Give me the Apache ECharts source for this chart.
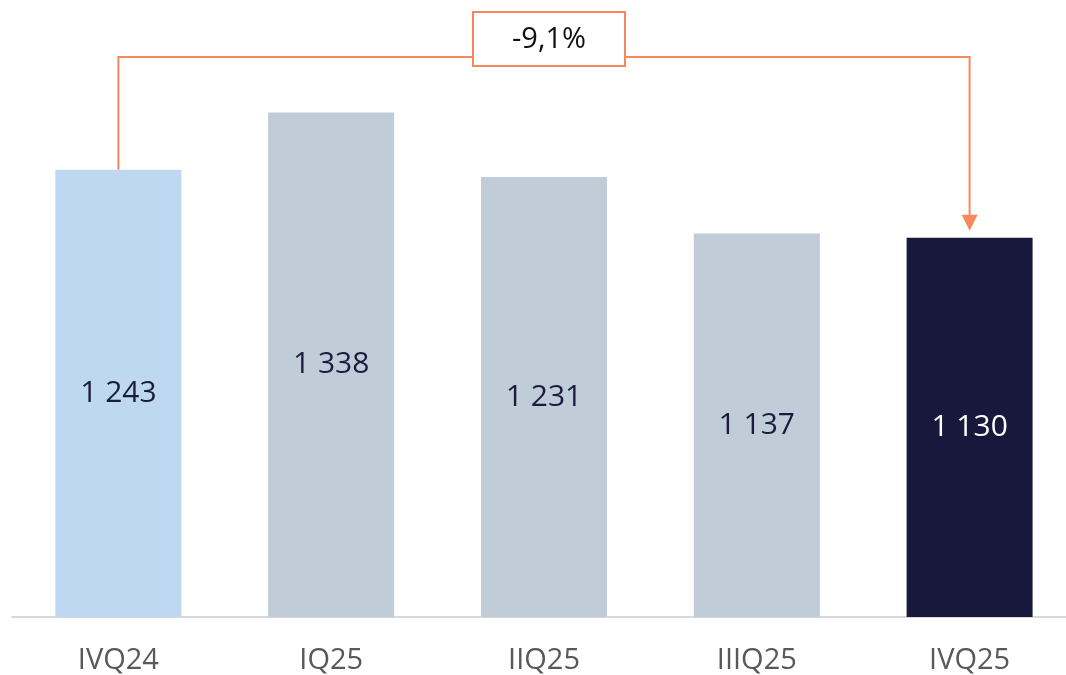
<!DOCTYPE html>
<html>
<head>
    <meta charset="UTF-8">
    <title>Quarterly chart</title>
    <script src="https://cdn.jsdelivr.net/npm/echarts@6/dist/echarts.min.js"></script>
    <style>
        html, body { margin: 0; padding: 0; background: #fff; overflow: hidden; }
        #main { width: 1090px; height: 675px; }
    </style>
</head>
<body>
    <div id="main"></div>
    <script type="text/javascript">
        // data
        var quarters = ['IVQ24', 'IQ25', 'IIQ25', 'IIIQ25', 'IVQ25'];
        var values = [1243, 1338, 1231, 1137, 1130];
        var barColors = ['#BDD8F0', '#C1CCD9', '#C1CCD9', '#C1CCD9', '#18183D'];
        var labelColors = ['#1B1B40', '#1B1B40', '#1B1B40', '#1B1B40', '#FFFFFF'];
        var changeText = '-9,1%';

        var orange = '#F9875C';
        var font = 'Open Sans';

        function fmt(v) {
            var s = String(v);
            return s.replace(/\B(?=(\d{3})+(?!\d))/g, ' ');
        }

        var myChart = echarts.init(document.getElementById('main'));

        var option = {
            animation: false,
            grid: { left: 12, width: 1064, top: 15, bottom: 57 },
            xAxis: {
                type: 'category',
                data: quarters,
                axisTick: { show: false },
                axisLine: { lineStyle: { color: '#D9D9D9', width: 2 } },
                axisLabel: { color: '#595959', fontSize: 29, fontFamily: font, margin: 29 }
            },
            yAxis: {
                type: 'value',
                min: 500,
                max: 1500,
                show: false,
                splitLine: { show: false }
            },
            series: [{
                type: 'bar',
                barWidth: 126,
                data: values.map(function (v, i) {
                    return {
                        value: v,
                        itemStyle: { color: barColors[i] },
                        label: { color: labelColors[i] }
                    };
                }),
                label: {
                    show: true,
                    position: 'inside',
                    fontSize: 30,
                    fontFamily: font,
                    formatter: function (p) { return fmt(p.value); }
                }
            }]
        };
        myChart.setOption(option);

        // change annotation between first and last bar
        var p0 = myChart.convertToPixel({ seriesIndex: 0 }, [0, values[0]]);
        var p1 = myChart.convertToPixel({ seriesIndex: 0 }, [values.length - 1, values[values.length - 1]]);
        var lineY = 57;
        var midX = (p0[0] + p1[0]) / 2 + 5;
        var tipY = p1[1] - 7;

        myChart.setOption({
            graphic: [
                {
                    type: 'polyline',
                    shape: { points: [[p0[0], p0[1]], [p0[0], lineY], [p1[0], lineY], [p1[0], tipY - 14]] },
                    style: { stroke: orange, lineWidth: 2, fill: null }
                },
                {
                    type: 'polygon',
                    shape: { points: [[p1[0] - 8, tipY - 16], [p1[0] + 8, tipY - 16], [p1[0], tipY]] },
                    style: { fill: orange }
                },
                {
                    type: 'rect',
                    shape: { x: midX - 76, y: 12, width: 152, height: 54 },
                    style: { fill: '#fff', stroke: orange, lineWidth: 2 }
                },
                {
                    type: 'text',
                    x: midX,
                    y: 40,
                    style: {
                        text: changeText,
                        fill: '#111111',
                        fontSize: 29,
                        fontFamily: font,
                        align: 'center',
                        verticalAlign: 'middle'
                    }
                }
            ]
        });
    </script>
</body>
</html>
